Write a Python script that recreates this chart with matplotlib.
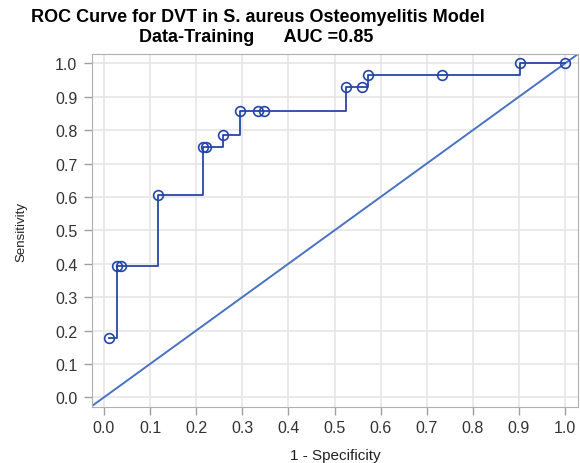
import numpy as np
import matplotlib.pyplot as plt

plt.rcParams['font.family'] = ['Liberation Sans', 'DejaVu Sans']

# points of the ROC curve (1 - specificity, sensitivity)
fpr = [0.011, 0.028, 0.036, 0.117, 0.214, 0.221, 0.258, 0.295, 0.333, 0.347,
       0.524, 0.560, 0.573, 0.734, 0.903, 1.0]
tpr = [0.179, 0.393, 0.393, 0.607, 0.750, 0.750, 0.786, 0.857, 0.857, 0.857,
       0.929, 0.929, 0.964, 0.964, 1.0, 1.0]
ticks = np.round(np.arange(0, 1.01, 0.1), 1)

fig = plt.figure(figsize=(5.8, 4.64), dpi=100)
ax = fig.add_axes([92/580, 1 - 408/464, (578 - 92)/580, (408 - 55)/464])

ax.axline((0, 0), (1, 1), color='#4a72c4', lw=1.4, zorder=2)
ax.plot(fpr, tpr, drawstyle='steps-post', color='#2446a6', lw=1.3, zorder=3)
ax.plot(fpr, tpr, 'o', ms=7, mfc='none', mec='#2446a6', mew=1.2, zorder=4)

ax.set_xlim(-0.026, 1.028)
ax.set_ylim(-0.029, 1.028)
ax.set_xticks(ticks)
ax.set_yticks(ticks)
ax.set_xticklabels([f'{t:.1f}' for t in ticks])
ax.set_yticklabels([f'{t:.1f}' for t in ticks])
ax.grid(True, color='#e6e6e6', lw=1.2)
ax.set_axisbelow(True)
for s in ax.spines.values():
    s.set_color('#b0b0b0')
ax.tick_params(colors='#a0a0a0', labelcolor='#333333', labelsize=11.5, length=5.5, width=1)
ax.tick_params(axis='x', pad=4)
ax.tick_params(axis='y', pad=5)
ax.set_xlabel('1 - Specificity', fontsize=11, color='#222222', labelpad=9)
ax.set_ylabel('Sensitivity', fontsize=9.5, color='#222222', labelpad=20)

fig.text(258/580, 1 - 17/464, 'ROC Curve for DVT in S. aureus Osteomyelitis Model',
         ha='center', va='center', fontsize=13, fontweight='bold')
fig.text(256/580, 1 - 37/464, 'Data-Training      AUC =0.85',
         ha='center', va='center', fontsize=13, fontweight='bold')

fig.savefig('out.png', dpi=100)
